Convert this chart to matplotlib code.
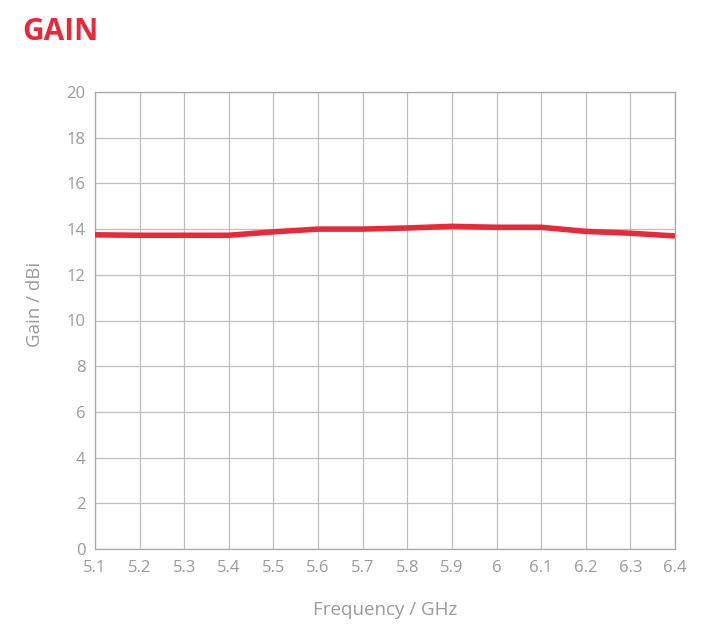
import matplotlib.pyplot as plt

freq = [5.1, 5.2, 5.3, 5.4, 5.5, 5.6, 5.7, 5.8, 5.9, 6.0, 6.1, 6.2, 6.3, 6.4]
gain = [13.75, 13.73, 13.73, 13.73, 13.88, 14.0, 14.0, 14.05, 14.12, 14.08, 14.08, 13.9, 13.82, 13.7]
xtick_labels = ['5.1', '5.2', '5.3', '5.4', '5.5', '5.6', '5.7', '5.8', '5.9', '6', '6.1', '6.2', '6.3', '6.4']
yticks = list(range(0, 21, 2))

plt.rcParams['font.family'] = ['Open Sans', 'DejaVu Sans']
gray = '#9a9a9a'

fig = plt.figure(figsize=(7.04, 6.37), dpi=100)
ax = fig.add_axes([95 / 704, 1 - 549 / 637, 580 / 704, 457 / 637])

ax.plot(freq, gain, color='#e62a3a', lw=4, solid_capstyle='butt', zorder=3)

ax.set_xlim(5.1, 6.4)
ax.set_ylim(0, 20)
ax.set_xticks(freq)
ax.set_xticklabels(xtick_labels)
ax.set_yticks(yticks)
ax.tick_params(length=0, colors=gray, labelsize=12)
ax.tick_params(axis='x', pad=8)
ax.tick_params(axis='y', pad=7)
ax.grid(True, color='#bdbdbd', lw=0.9)
for s in ax.spines.values():
    s.set_color('#a8a8a8')
    s.set_linewidth(0.9)

ax.set_xlabel('Frequency / GHz', color=gray, fontsize=13.5, labelpad=18)
ax.set_ylabel('Gain / dBi', color=gray, fontsize=13.5, labelpad=16)
ax.yaxis.label.set_y(0.535)

fig.text(22 / 704, 1 - 32 / 637, 'GAIN', color='#e62a3a', fontsize=21.5,
         fontweight='bold', va='center', ha='left')

fig.savefig('out.png', dpi=100)
